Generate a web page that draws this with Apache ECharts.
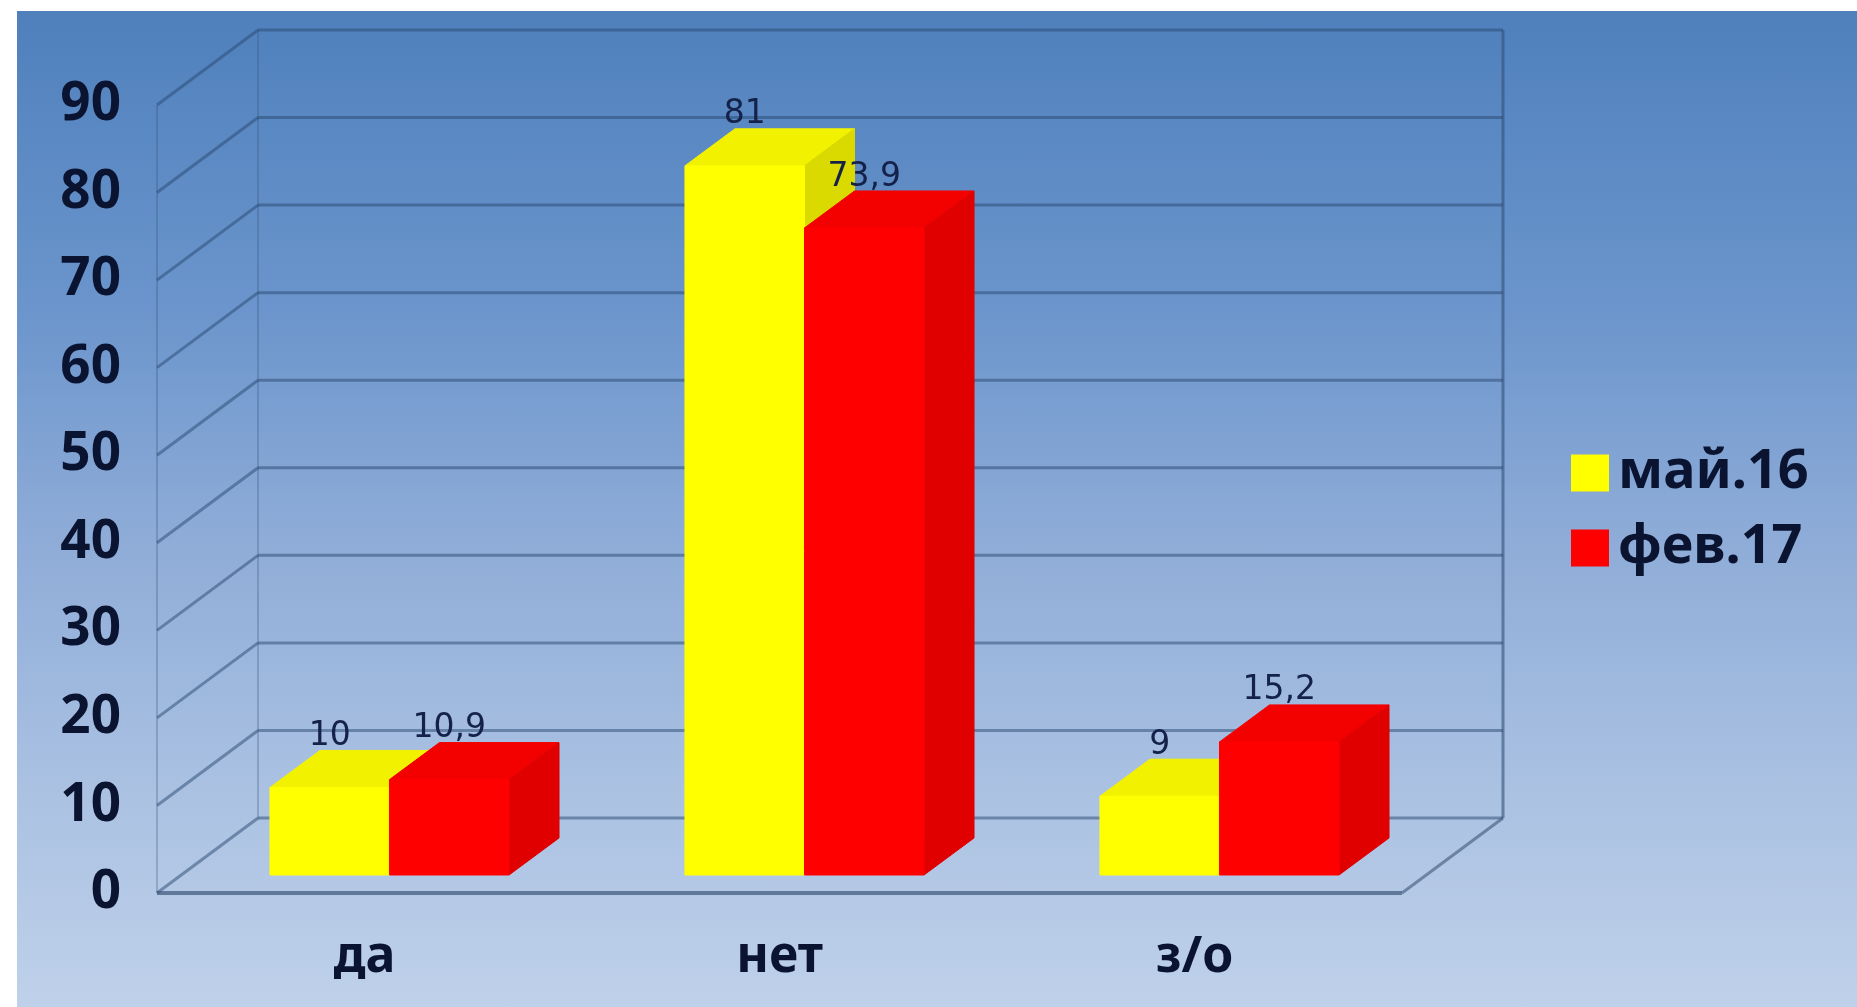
<!DOCTYPE html>
<html>
<head>
<meta charset="utf-8">
<style>
html,body{margin:0;padding:0;background:#fff;width:1857px;height:1007px;overflow:hidden}
#bg{position:absolute;left:17px;top:11px;width:1840px;height:996px;
background:linear-gradient(180deg,#4f80bc 0%,#6b95cc 30%,#8dabd7 52%,#aac1e2 78%,#bfd1ea 100%)}
#c{position:absolute;left:0;top:0;width:1857px;height:1007px;filter:blur(0.7px)}
</style>
<script src="https://cdn.jsdelivr.net/npm/echarts@6/dist/echarts.min.js"></script>
</head>
<body>
<div id="bg"></div>
<div id="c"></div>
<script>
const categories = ['да', 'нет', 'з/о'];
const seriesNames = ['май.16', 'фев.17'];
const may16 = [10, 81, 9];
const feb17 = [10.9, 73.9, 15.2];
const yTicks = [0, 10, 20, 30, 40, 50, 60, 70, 80, 90];

const WALL_DX = 101, WALL_DY = 75;
const BAR_DX = 50, BAR_DY = 37;
const BAR_SHIFT_X = 25, BAR_SHIFT_Y = 18;
const BAR_RATIO = 0.288;
const INK = '#0a1430';
const GRID_LINE = 'rgba(40,72,112,0.5)';
const THIN_LINE = 'rgba(50,80,120,0.28)';

function poly(points, fill) {
  return { type: 'polygon', shape: { points }, style: { fill, stroke: fill, lineWidth: 1 } };
}
function seg(x1, y1, x2, y2, stroke, w) {
  return { type: 'line', shape: { x1, y1, x2, y2 }, style: { stroke, lineWidth: w, fill: null } };
}

function renderWall(params, api) {
  const cs = params.coordSys;
  const y = api.coord([0, api.value(0)])[1];
  const left = cs.x, right = cs.x + cs.width;
  const children = [
    seg(left, y, left + WALL_DX, y - WALL_DY, GRID_LINE, 3),
    seg(left + WALL_DX, y - WALL_DY, right + WALL_DX, y - WALL_DY, GRID_LINE, 3)
  ];
  if (params.dataIndex === 0) {
    const top = cs.y, bottom = cs.y + cs.height;
    children.push(
      seg(left, top, left, bottom, THIN_LINE, 2),
      seg(left + WALL_DX, top - WALL_DY, left + WALL_DX, bottom - WALL_DY, THIN_LINE, 2),
      seg(right + WALL_DX, top - WALL_DY, right + WALL_DX, bottom - WALL_DY, 'rgba(50,80,120,0.6)', 3),
      seg(left, bottom, right, bottom, 'rgba(60,85,120,0.7)', 4),
      seg(right, bottom, right + WALL_DX, bottom - WALL_DY, 'rgba(60,85,120,0.6)', 3)
    );
  }
  return { type: 'group', children };
}

function makeBarRenderer(side, front, topFace, sideFace) {
  return function (params, api) {
    const idx = api.value(0), val = api.value(1);
    const top = api.coord([idx, val]);
    const base = api.coord([idx, 0]);
    const w = api.size([1, 0])[0] * BAR_RATIO;
    const x0 = top[0] + BAR_SHIFT_X + (side === 0 ? -w : 0);
    const x1 = x0 + w;
    const yT = top[1] - BAR_SHIFT_Y, yB = base[1] - BAR_SHIFT_Y;
    return {
      type: 'group',
      children: [
        poly([[x0, yT], [x0 + BAR_DX, yT - BAR_DY], [x1 + BAR_DX, yT - BAR_DY], [x1, yT]], topFace),
        poly([[x1, yT], [x1 + BAR_DX, yT - BAR_DY], [x1 + BAR_DX, yB - BAR_DY], [x1, yB]], sideFace),
        poly([[x0, yT], [x1, yT], [x1, yB], [x0, yB]], front)
      ]
    };
  };
}

function renderValueLabel(side) {
  return function (params, api) {
    const idx = api.value(0), val = api.value(1);
    const top = api.coord([idx, val]);
    const w = api.size([1, 0])[0] * BAR_RATIO;
    const cx = top[0] + BAR_SHIFT_X + (side === 0 ? -w / 2 : w / 2);
    const cy = top[1] - BAR_SHIFT_Y - BAR_DY - 14;
    return {
      type: 'text',
      style: {
        x: cx, y: cy, text: String(val).replace('.', ','),
        fill: '#14224a', font: '33px "DejaVu Sans"', align: 'center', verticalAlign: 'middle'
      }
    };
  };
}

function pairs(arr) { return arr.map((v, i) => [i, v]); }

const chart = echarts.init(document.getElementById('c'), null, { renderer: 'canvas', width: 1857, height: 1007 });
chart.setOption({
  animation: false,
  backgroundColor: 'transparent',
  grid: { left: 157, top: 105, width: 1245, height: 788 },
  legend: {
    orient: 'vertical', left: 1566, top: 441,
    data: seriesNames.map(n => ({ name: n, icon: 'rect' })),
    itemWidth: 38, itemHeight: 37, itemGap: 21, selectedMode: false,
    textStyle: { fontFamily: 'Noto Sans', fontWeight: 'bold', fontSize: 54, color: INK, padding: [0, 0, 0, 4] }
  },
  xAxis: {
    type: 'category', data: categories, boundaryGap: true,
    axisLine: { show: false }, axisTick: { show: false },
    axisLabel: { margin: 40, fontFamily: 'Noto Sans', fontWeight: 'bold', fontSize: 50, color: INK }
  },
  yAxis: {
    type: 'value', min: 0, max: 90, interval: 10,
    axisLine: { show: false }, axisTick: { show: false }, splitLine: { show: false },
    axisLabel: { margin: 36, fontFamily: 'Noto Sans', fontWeight: 'bold', fontSize: 53, color: INK }
  },
  series: [
    { type: 'custom', name: 'walls', silent: true, clip: false, z: 1, renderItem: renderWall,
      data: yTicks.map(v => [v]), encode: { y: 0 } },
    { type: 'custom', name: seriesNames[0], clip: false, z: 2, itemStyle: { color: '#ffff00' },
      renderItem: makeBarRenderer(0, '#ffff00', '#f2f200', '#dada00'), data: pairs(may16), encode: { x: 0, y: 1 } },
    { type: 'custom', name: seriesNames[1], clip: false, z: 3, itemStyle: { color: '#ff0000' },
      renderItem: makeBarRenderer(1, '#ff0000', '#f30000', '#e00000'), data: pairs(feb17), encode: { x: 0, y: 1 } },
    { type: 'custom', name: 'подписи1', clip: false, silent: true, z: 4, renderItem: renderValueLabel(0),
      data: pairs(may16), encode: { x: 0, y: 1 } },
    { type: 'custom', name: 'подписи2', clip: false, silent: true, z: 4, renderItem: renderValueLabel(1),
      data: pairs(feb17), encode: { x: 0, y: 1 } }
  ]
});
</script>
</body>
</html>
